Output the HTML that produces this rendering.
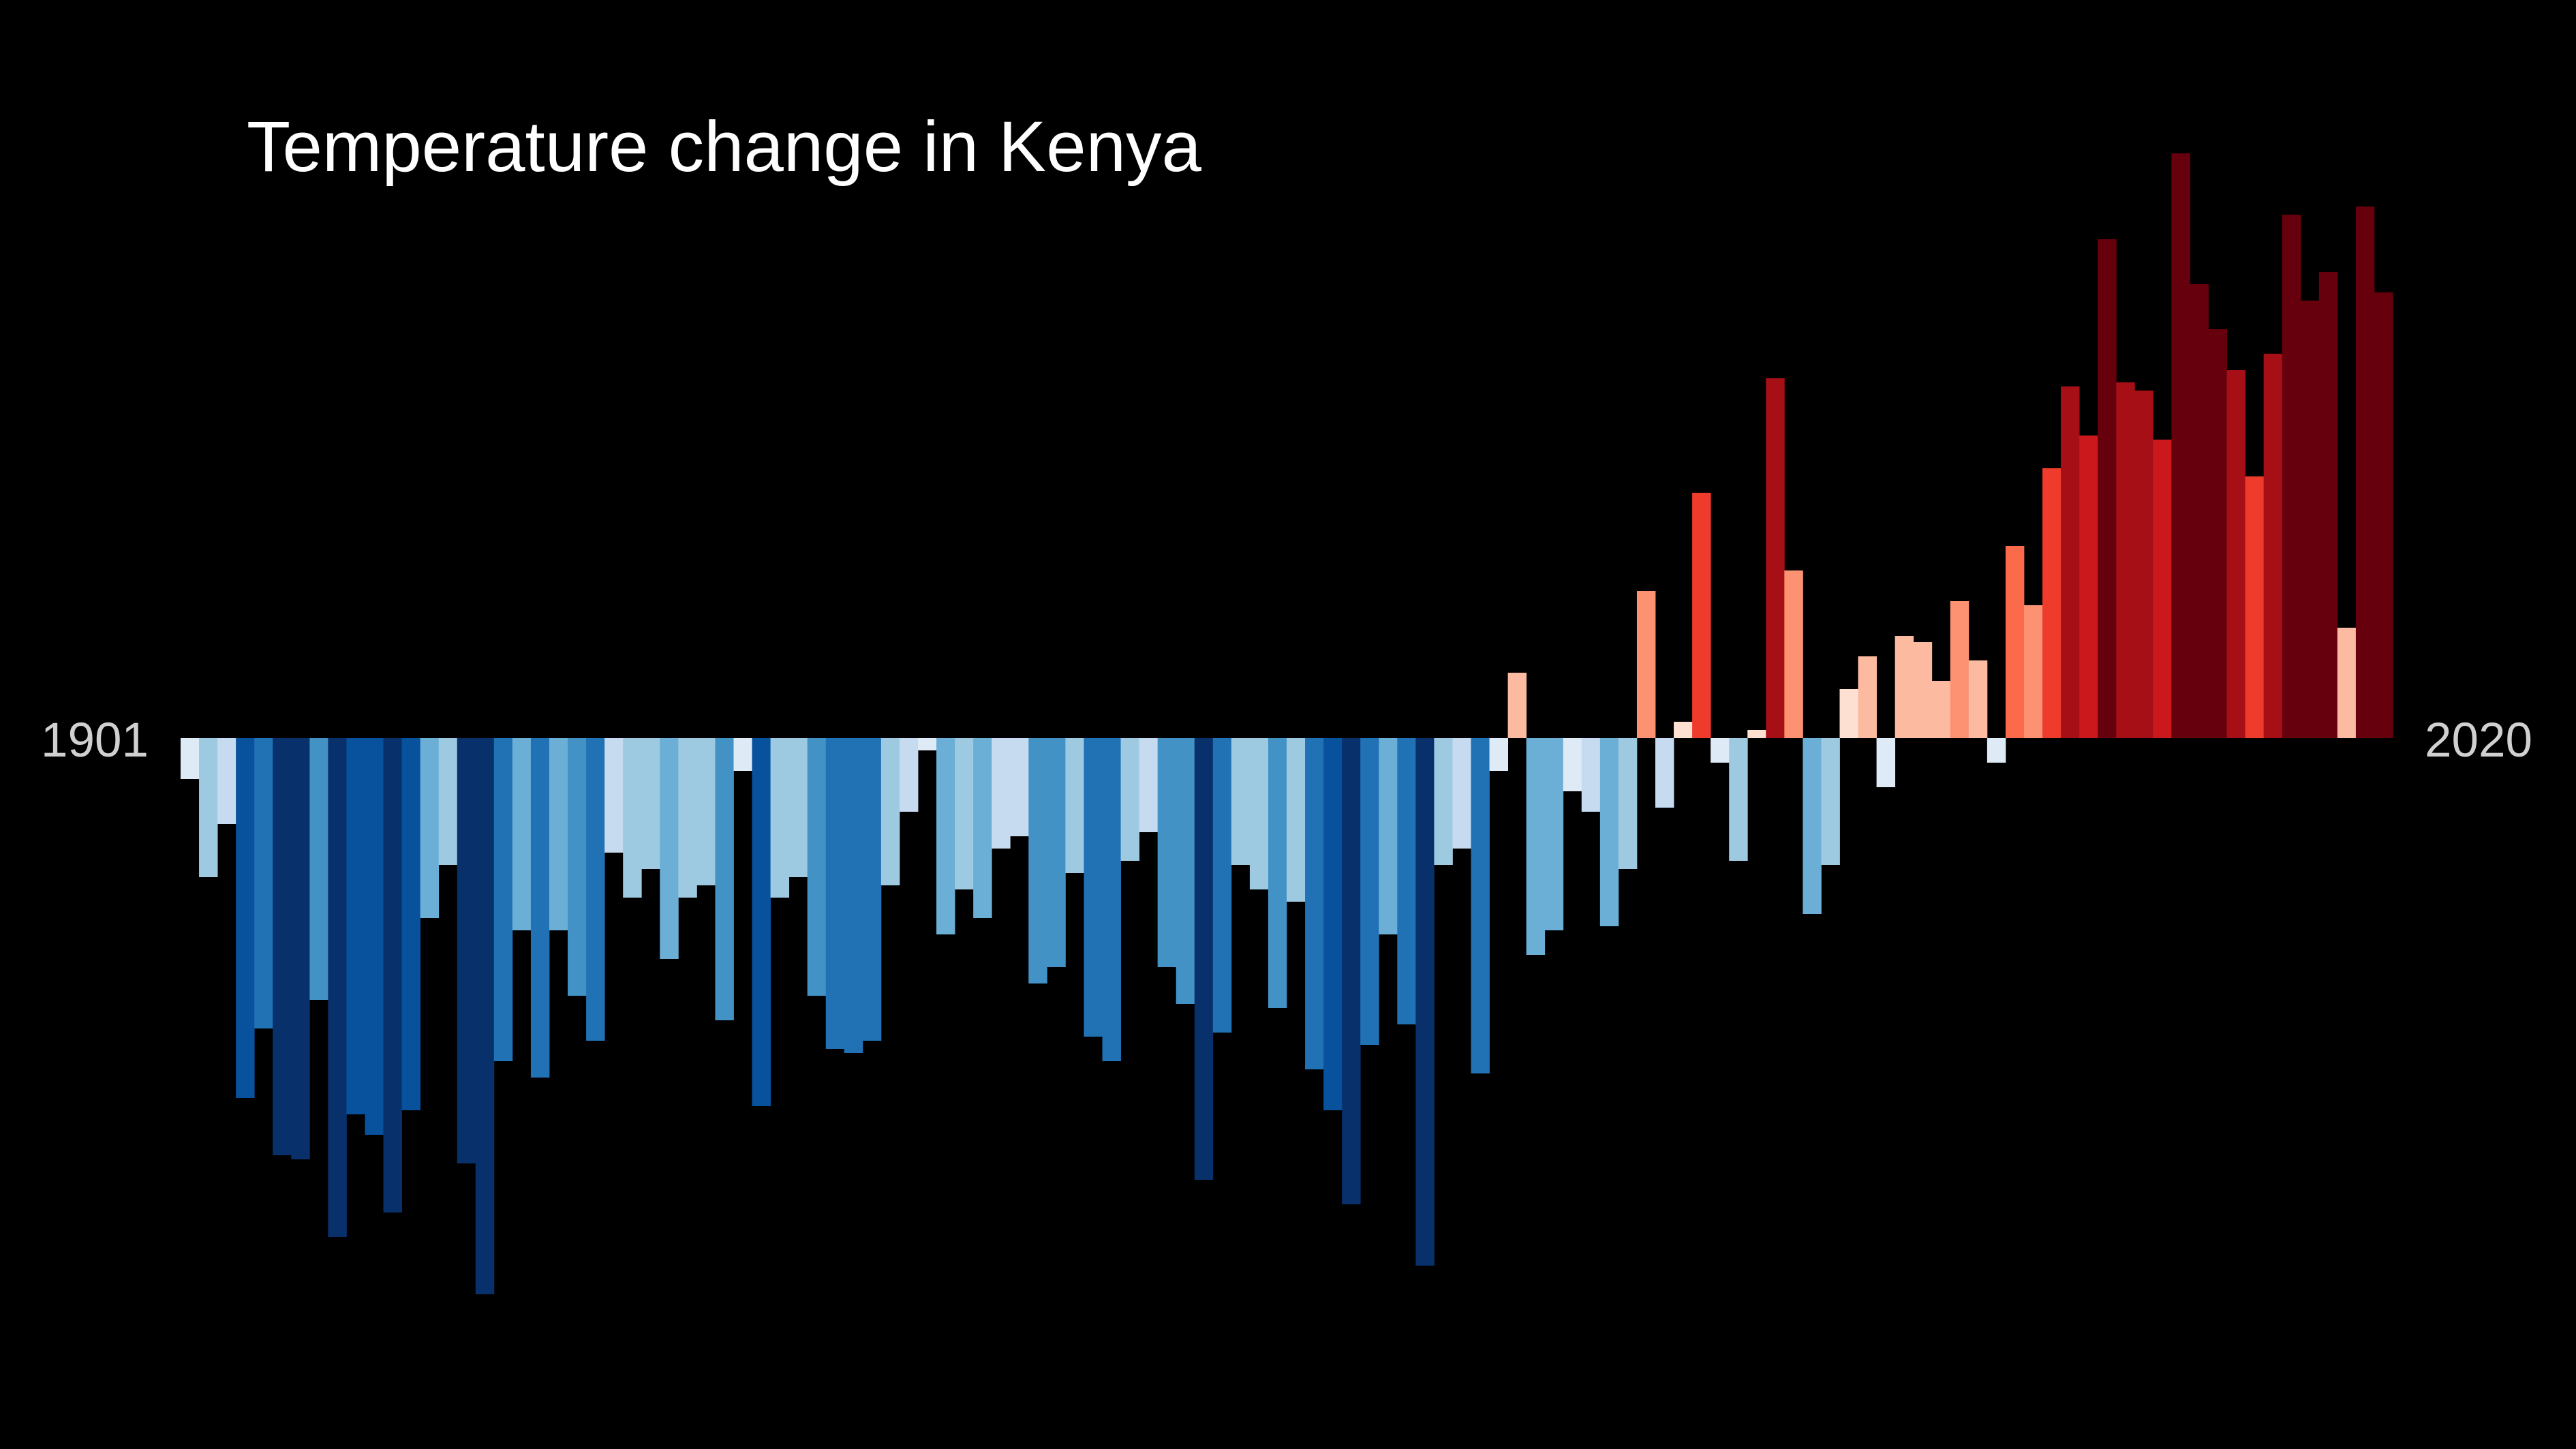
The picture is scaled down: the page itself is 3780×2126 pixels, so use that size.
<!DOCTYPE html>
<html>
<head>
<meta charset="utf-8">
<style>
html,body{margin:0;padding:0;background:#000;}
svg{display:block;}
text{font-family:"Liberation Sans",sans-serif;}
</style>
</head>
<body>
<svg id="chart" width="3780" height="2126" viewBox="0 0 3780 2126" xmlns="http://www.w3.org/2000/svg">
<rect x="0" y="0" width="3780" height="2126" fill="#000"/>
<text x="362" y="251" font-size="105" fill="#ffffff">Temperature change in Kenya</text>
<text x="218" y="1110" font-size="71" fill="#d0d0d0" text-anchor="end">1901</text>
<text x="3558" y="1110" font-size="71" fill="#d0d0d0">2020</text>
<g id="bars"></g>
</svg>
<script>
const startYear = 1901;
const endYear = 2020;
const anomalies = [
-0.10,-0.34,-0.21,-0.88,-0.71,-1.02,-1.03,-0.64,-1.22,-0.92,
-0.97,-1.16,-0.91,-0.44,-0.31,-1.04,-1.36,-0.79,-0.47,-0.83,
-0.47,-0.63,-0.74,-0.28,-0.39,-0.32,-0.54,-0.39,-0.36,-0.69,
-0.08,-0.90,-0.39,-0.34,-0.63,-0.76,-0.77,-0.74,-0.36,-0.18,
-0.03,-0.48,-0.37,-0.44,-0.27,-0.24,-0.60,-0.56,-0.33,-0.73,
-0.79,-0.30,-0.23,-0.56,-0.65,-1.08,-0.72,-0.31,-0.37,-0.66,
-0.40,-0.81,-0.91,-1.14,-0.75,-0.48,-0.70,-1.29,-0.31,-0.27,
-0.82,-0.08,0.16,-0.53,-0.47,-0.13,-0.18,-0.46,-0.32,0.36,
-0.17,0.04,0.60,-0.06,-0.30,0.02,0.88,0.41,-0.43,-0.31,
0.12,0.20,-0.12,0.25,0.235,0.14,0.335,0.19,-0.06,0.47,
0.325,0.66,0.86,0.74,1.22,0.87,0.85,0.73,1.43,1.11,
1.00,0.90,0.64,0.94,1.28,1.07,1.14,0.27,1.30,1.09
];
const colorThresholds = [-0.99,-0.85,-0.695,-0.55,-0.42,-0.285,-0.15,0,0.13,0.30,0.44,0.50,0.70,0.80,0.97];
const colorPalette = ["#08306b","#08519c","#2171b5","#4292c6","#6baed6","#9ecae1","#c6dbef","#deebf7","#fee0d2","#fcbba1","#fc9272","#fb6a4a","#ef3b2c","#cb181d","#a50f15","#67000d"];

const X0 = 265, BW = 27.05, BASE = 1083, PX_PER_DEG = 600;
function xScale(i){ return X0 + i * BW; }
function yScale(v){ return BASE - v * PX_PER_DEG; }
function colorFor(v){
  let k = 0;
  while (k < colorThresholds.length && v >= colorThresholds[k]) k++;
  return colorPalette[k];
}
const g = document.getElementById('bars');
const NS = 'http://www.w3.org/2000/svg';
anomalies.forEach(function(v, i){
  const r = document.createElementNS(NS, 'rect');
  const y0 = yScale(0), y1 = yScale(v);
  r.setAttribute('x', xScale(i).toFixed(2));
  r.setAttribute('width', (BW + 0.4).toFixed(2));
  r.setAttribute('y', Math.min(y0, y1).toFixed(2));
  r.setAttribute('height', Math.abs(y1 - y0).toFixed(2));
  r.setAttribute('fill', colorFor(v));
  
  
  g.appendChild(r);
});
</script>
</body>
</html>
